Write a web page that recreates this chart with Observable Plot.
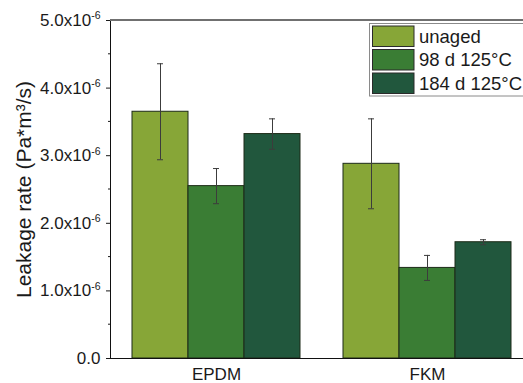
<!DOCTYPE html>
<html><head><meta charset="utf-8">
<script src="https://cdn.jsdelivr.net/npm/d3@7"></script>
<script src="https://cdn.jsdelivr.net/npm/@observablehq/plot@0.6"></script>
<style>
body{margin:0;background:#fff;}
#chart{width:523px;height:383px;overflow:hidden;position:relative;}
</style>
</head><body><div id="chart"></div>
<script>
const categories = ["EPDM", "FKM"];
const series = ["unaged", "98 d 125°C", "184 d 125°C"];
const colors = ["#87a637", "#3a7d34", "#21573d"];
// leakage rate, 1e-6 Pa*m³/s
const epdmValues = [3.65, 2.55, 3.32];
const epdmErrors = [0.71, 0.26, 0.225];
const fkmValues = [2.88, 1.34, 1.72];
const fkmErrors = [0.665, 0.185, 0.037];
const yMajorTicks = [0, 1, 2, 3, 4, 5];
const yMinorTicks = [0.5, 1.5, 2.5, 3.5, 4.5];
const yLabel = "Leakage rate (Pa*m³/s)";

const scaleE = 1e-6;
const table = [];
[[categories[0], epdmValues, epdmErrors], [categories[1], fkmValues, fkmErrors]].forEach(([cat, vals, errs]) => {
  series.forEach((s, i) => table.push({category: cat, series: s, value: vals[i] * scaleE, err: errs[i] * scaleE}));
});

const FONT = "'Liberation Sans', Arial, sans-serif";
const ERR = "#3c3c3c";

const plot = Plot.plot({
  width: 523, height: 383,
  marginLeft: 111, marginRight: 0, marginTop: 20, marginBottom: 25,
  style: {fontFamily: FONT, background: "#fff", color: "#1a1a1a", overflow: "hidden"},
  fx: {domain: categories, paddingInner: 0.1025, paddingOuter: 0.0243, align: 0, axis: null, label: null},
  x: {domain: series, paddingInner: 0, paddingOuter: 0.1765, align: 1, axis: null},
  y: {
    domain: [0, 5 * scaleE],
    ticks: yMajorTicks.map(t => t * scaleE),
    tickFormat: d => d === 0 ? "0.0" : `${(d / scaleE).toFixed(1)}x10^-6`,
    tickSize: 5, tickPadding: 6,
    label: yLabel, labelAnchor: "center", labelOffset: 95, labelArrow: "none"
  },
  color: {domain: series, range: colors},
  marks: [
    Plot.barY(table, {fx: "category", x: "series", y: "value", fill: "series", stroke: "#1d2b18", strokeWidth: 1}),
    Plot.ruleX(table, {fx: "category", x: "series", y1: d => d.value - d.err, y2: d => d.value + d.err, stroke: ERR, strokeWidth: 1}),
    Plot.tickY(table, {fx: "category", x: "series", y: d => d.value - d.err, insetLeft: 25, insetRight: 25, stroke: ERR, strokeWidth: 1}),
    Plot.tickY(table, {fx: "category", x: "series", y: d => d.value + d.err, insetLeft: 25, insetRight: 25, stroke: ERR, strokeWidth: 1}),
    Plot.text(categories, {fx: d => d, x: () => series[1], frameAnchor: "bottom", lineAnchor: "top", dy: 9, fontSize: 17, fill: "#1a1a1a", text: d => d})
  ]
});

document.getElementById("chart").appendChild(plot);

const svg = d3.select(plot);
const yS = plot.scale("y");
const y = v => yS.apply(v);
const left = 111, right = 523;

// font sizes
svg.selectAll('g[aria-label="y-axis tick label"]').attr("font-size", 17);
svg.selectAll('g[aria-label="y-axis label"]').attr("font-size", 21);

// superscript exponents on y tick labels
svg.selectAll("text").each(function() {
  const t = this.textContent;
  if (t.includes("x10^")) {
    const [base, exp] = t.split("^");
    const sel = d3.select(this);
    sel.text(base);
    sel.append("tspan").attr("font-size", 10.5).attr("dy", "-0.62em").text(exp);
  }
});

// minor ticks and frame lines
const g = svg.append("g").attr("aria-label", "frame");
g.selectAll("line.minor").data(yMinorTicks).join("line")
  .attr("x1", left - 3).attr("x2", left).attr("y1", d => y(d * scaleE)).attr("y2", d => y(d * scaleE))
  .attr("stroke", "#1a1a1a");
g.append("line").attr("x1", left - 0.5).attr("x2", left - 0.5).attr("y1", y(5 * scaleE)).attr("y2", y(0)).attr("stroke", "#111");
g.append("line").attr("x1", left - 1).attr("x2", right).attr("y1", y(0) + 0.5).attr("y2", y(0) + 0.5).attr("stroke", "#111");
g.append("line").attr("x1", left - 1).attr("x2", right).attr("y1", y(5 * scaleE)).attr("y2", y(5 * scaleE)).attr("stroke", "#707070").attr("stroke-width", 2);

// legend
const lg = svg.append("g").attr("aria-label", "legend").attr("font-family", FONT).attr("text-anchor", "start");
lg.append("rect").attr("x", 369.5).attr("y", 23.5).attr("width", 200).attr("height", 72.5).attr("fill", "#fff").attr("stroke", "#8a8a8a");
series.forEach((s, i) => {
  const yy = 26 + i * 23.5;
  lg.append("rect").attr("x", 372.5).attr("y", yy).attr("width", 41.5).attr("height", 20.5).attr("fill", colors[i]).attr("stroke", "#2a2a2a");
  lg.append("text").attr("x", 419).attr("y", yy + 16.5).attr("font-size", 18.5).attr("fill", "#1a1a1a").text(s);
});
</script>
</body></html>
